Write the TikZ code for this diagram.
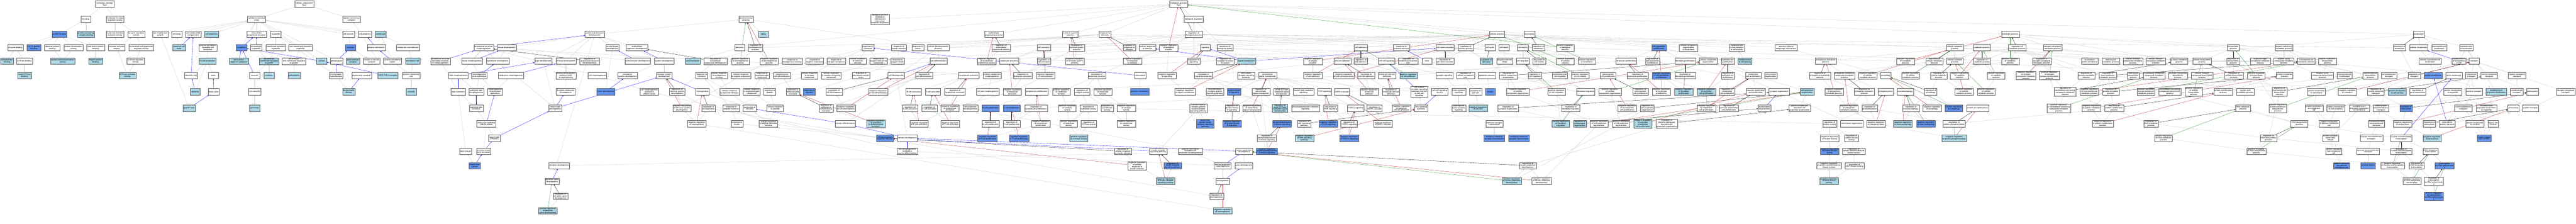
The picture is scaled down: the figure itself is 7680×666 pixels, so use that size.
\documentclass[tikz,border=0pt]{standalone}
\usepackage{fontspec}
\setmainfont{Liberation Sans}
\usetikzlibrary{positioning,calc,backgrounds,arrows.meta}
\definecolor{hitlight}{HTML}{ADD8E6}
\definecolor{hitdark}{HTML}{6495ED}
\definecolor{isagray}{HTML}{C8C8C8}
\definecolor{negred}{HTML}{B22222}
\definecolor{posgreen}{HTML}{228B22}
\tikzset{
    gograph/.style={
        x=1pt, y=-1pt,
        % Style for plain terms
        goterm/.style={draw=black!65, fill=white, rectangle, align=center,
                       minimum width=30pt, minimum height=19pt,
                       inner xsep=2pt, inner ysep=0.8pt, line width=0.6pt,
                       font=\fontsize{6}{6}\selectfont},
        % Style for annotated terms (light)
        golight/.style={goterm, fill=hitlight},
        % Style for annotated terms (dark)
        godark/.style={goterm, fill=hitdark},
        % Styles for the relations
        isa/.style={draw=isagray, line width=0.5pt, -{Latex[length=3.5pt,width=3pt]}},
        partof/.style={isa, draw=blue},
        regulates/.style={isa, draw=black},
        negregulates/.style={isa, draw=negred},
        posregulates/.style={isa, draw=posgreen}
    }
}
\begin{document}
\begin{tikzpicture}[gograph]
\useasboundingbox (0,0) rectangle (7680,666);
% molecular function
\node[goterm] (mf) at (312,12) {molecular\_function\\Tsc2};
\node[goterm] (bind) at (256,57) {binding};
\node[goterm] (mfreg) at (343,57) {molecular function\\regulator activity};
\node[godark] (protbind) at (177,102) {protein binding};
\node[golight] (complexbind) at (256,102) {protein-containing\\complex binding};
\node[goterm] (mfact) at (343,102) {molecular function\\activator activity};
\node[goterm] (enzreg) at (406,102) {enzyme regulator\\activity};
\node[goterm] (enzbind) at (46,142) {enzyme binding};
\node[godark] (bind1433) at (101,142) {14-3-3 protein\\binding};
\node[goterm] (identbind) at (156,142) {identical protein\\binding};
\node[goterm] (dimer) at (219,142) {protein dimerization\\activity};
\node[goterm] (hsbind) at (285,142) {heat shock protein\\binding};
\node[goterm] (enzact) at (348,142) {enzyme activator\\activity};
\node[goterm] (ntpreg) at (421,142) {nucleoside-triphosphatase\\regulator activity};
\node[golight] (phosbind) at (21,182) {phosphatase\\binding};
\node[goterm] (gtpbind) at (73,182) {GTPase binding};
\node[golight] (homodimer) at (187,182) {protein homodimerization\\activity};
\node[golight] (hsp90) at (285,182) {Hsp90 protein\\binding};
\node[goterm] (gtpreg) at (404,182) {GTPase regulator\\activity};
\node[golight] (smallgtpbind) at (73,225) {small GTPase\\binding};
\node[golight] (gtpact) at (380,225) {GTPase activator\\activity};
% cellular component
\node[goterm] (cc) at (907,12) {cellular\_component\\Tsc2};
\node[goterm] (cae) at (765,57) {cellular anatomical\\entity};
\node[goterm] (pcc) at (1048,57) {protein-containing\\complex};
\node[goterm] (polgrowth) at (478,102) {site of polarized\\growth};
\node[goterm] (cellbody) at (527,102) {cell body};
\node[goterm] (somato) at (576,102) {somatodendritic\\compartment};
\node[golight] (cellproj) at (631,102) {cell projection};
\node[goterm] (iastruct) at (765,102) {intracellular\\anatomical structure};
\node[goterm] (organelle) at (822,102) {organelle};
\node[goterm] (celljunc) at (1039,102) {cell junction};
\node[goterm] (cellperiph) at (1088,102) {cell periphery};
\node[golight] (membrane) at (1135,102) {membrane};
\node[golight] (neuronbody) at (534,142) {neuronal cell\\body};
\node[goterm] (pmbcp) at (620,142) {plasma membrane\\bounded cell\\projection};
\node[godark] (cytoplasm) at (720,142) {cytoplasm};
\node[goterm] (iorganelle) at (764,142) {intracellular\\organelle};
\node[goterm] (mbo) at (822,142) {membrane-bounded\\organelle};
\node[goterm] (nmbo) at (896,142) {non-membrane-bounded\\organelle};
\node[godark] (synapse) at (1045,142) {synapse};
\node[goterm] (pm) at (1122,142) {plasma membrane};
\node[goterm] (microdomain) at (1216,142) {membrane microdomain};
\node[golight] (neuronproj) at (618,182) {neuron projection};
\node[golight] (perinuc) at (712,182) {perinuclear\\region of cytoplasm};
\node[golight] (imbo) at (802,182) {intracellular\\membrane-bounded\\organelle};
\node[goterm] (inmbo) at (876,182) {intracellular\\non-membrane-bounded\\organelle};
\node[golight] (cytosol) at (959,182) {cytosol};
\node[goterm] (postsynapse) at (1003,182) {postsynapse};
\node[golight] (glutsyn) at (1052,182) {glutamatergic\\synapse};
\node[goterm] (n2nsyn) at (1108,182) {neuron to neuron\\synapse};
\node[goterm] (pmregion) at (1170,182) {plasma membrane\\region};
\node[golight] (raft) at (1230,182) {membrane raft};
\node[goterm] (dendtree) at (570,225) {dendritic tree};
\node[goterm] (axon) at (636,225) {axon};
\node[goterm] (vacuole) at (759,225) {vacuole};
\node[golight] (nucleus) at (802,225) {nucleus};
\node[golight] (cytoskel) at (877,225) {cytoskeleton};
\node[goterm] (psspec) at (1002,225) {postsynaptic\\specialization};
\node[goterm] (asymsyn) at (1078,225) {asymmetric synapse};
\node[golight] (tsccomplex) at (1156,225) {TSC1-TSC2 complex};
\node[goterm] (pmraft) at (1226,225) {plasma membrane\\raft};
\node[golight] (dendrite) at (582,273) {dendrite};
\node[goterm] (distaxon) at (637,273) {distal axon};
\node[goterm] (lyticvac) at (759,273) {lytic vacuole};
\node[golight] (psd) at (1040,273) {postsynaptic\\density};
\node[golight] (caveola) at (1226,273) {caveola};
\node[golight] (growthcone) at (564,322) {growth cone};
\node[golight] (lysosome) at (759,322) {lysosome};
% biological process: development
\node[goterm] (asdev) at (1773,102) {anatomical structure\\development};
\node[goterm] (asmorph) at (1442,142) {anatomical structure\\morphogenesis};
\node[goterm] (tissuedev) at (1511,142) {tissue development};
\node[goterm] (organdev) at (1826,142) {animal organ\\development};
\node[goterm] (mcorgdev) at (1899,142) {multicellular\\organism development};
\node[goterm] (asform) at (1313,182) {anatomical structure\\formation involved\\in morphogenesis};
\node[goterm] (tissuemorph) at (1407,182) {tissue morphogenesis};
\node[goterm] (epidev) at (1484,182) {epithelium development};
\node[goterm] (tubedev) at (1620,182) {tube development};
\node[goterm] (embryodev) at (1687,182) {embryo development};
\node[goterm] (regasmorph) at (1758,182) {regulation of\\anatomical structure\\morphogenesis};
\node[goterm] (mesdev) at (1901,182) {mesenchyme development};
\node[goterm] (tubemorph) at (1366,225) {tube morphogenesis};
\node[goterm] (morphepi) at (1429,225) {morphogenesis\\of an epithelium};
\node[goterm] (embmorph) at (1523,225) {embryonic morphogenesis};
\node[goterm] (embbirth) at (1687,225) {embryo development\\ending in birth\\or egg hatching};
\node[goterm] (cellmorph) at (1781,225) {cell morphogenesis};
\node[goterm] (circdev) at (1871,225) {circulatory\\system development};
\node[goterm] (tubeform) at (1366,273) {tube formation};
\node[goterm] (epitubemorph) at (1420,273) {epithelial tube\\morphogenesis};
\node[goterm] (morphembepi) at (1476,273) {morphogenesis\\of embryonic\\epithelium};
\node[goterm] (chordatedev) at (1686,273) {chordate embryonic\\development};
\node[godark] (heartdev) at (1806,273) {heart development};
\node[goterm] (cellmorphdiff) at (1936,273) {cell morphogenesis\\involved in\\differentiation};
\node[goterm] (epitubeform) at (1420,322) {epithelial tube\\formation};
\node[goterm] (ntdev) at (1655,322) {neural tube\\development};
\node[goterm] (embepitube) at (1450,368) {embryonic epithelial\\tube formation};
\node[goterm] (ntform) at (1474,411) {neural tube\\formation};
\node[goterm] (tubeclosure) at (1388,450) {tube closure};
\node[goterm] (primaryntform) at (1442,450) {primary neural\\tube formation};
\node[godark] (ntclosure) at (1415,493) {neural tube\\closure};
\node[goterm] (dendritedev) at (1667,493) {dendrite development};
\node[goterm] (spinedev) at (1646,539) {dendritic spine\\development};
\node[goterm] (regspinedev) at (1671,584) {regulation of\\dendritic spine\\development};
\node[golight] (posregspinedev) at (1633,627) {positive regulation\\of dendritic\\spine development};
% developmental process and responses
\node[goterm] (devproc) at (2224,57) {developmental\\process};
\node[golight] (aging) at (2276,102) {aging};
\node[goterm] (behavior) at (2205,142) {behavior};
\node[goterm] (regdevproc) at (2252,142) {regulation of\\developmental\\process};
\node[goterm] (sysdev) at (1980,182) {system development};
\node[golight] (socialbeh) at (2065,182) {social behavior};
\node[goterm] (regmcorgdev) at (2133,182) {regulation of\\multicellular\\organismal development};
\node[goterm] (posregdevproc) at (2207,182) {positive regulation\\of developmental\\process};
\node[goterm] (negregdevproc) at (2293,182) {negative regulation\\of developmental\\process};
\node[goterm] (respendo) at (2362,182) {response to\\endogenous stimulus};
\node[goterm] (resporganic) at (2429,182) {response to\\organic substance};
\node[goterm] (respnitrogen) at (2493,182) {response to\\nitrogen compound};
\node[goterm] (cellrespchem) at (2557,182) {cellular response\\to chemical\\stimulus};
\node[goterm] (nervdev) at (1980,225) {nervous system\\development};
\node[goterm] (resphormone) at (2092,225) {response to\\hormone};
\node[goterm] (cellrespendo) at (2144,225) {cellular response\\to endogenous\\stimulus};
\node[goterm] (cellresporganic) at (2209,225) {cellular response\\to organic substance};
\node[goterm] (resporganon) at (2272,225) {response to\\organonitrogen\\compound};
\node[goterm] (mesdiff) at (2331,225) {mesenchymal\\cell differentiation};
\node[goterm] (cellrespnitrogen) at (2413,225) {cellular response\\to nitrogen\\compound};
\node[goterm] (cellrespoxy) at (2478,225) {cellular response\\to oxygen-containing\\compound};
\node[goterm] (respdecoxy) at (2567,225) {response to\\decreased oxygen\\levels};
\node[goterm] (regnervdev) at (2019,273) {regulation of\\nervous system\\development};
\node[goterm] (neurogen) at (2094,273) {neurogenesis};
\node[goterm] (cellresphormone) at (2175,273) {cellular response\\to hormone stimulus};
\node[goterm] (cellresporganon) at (2241,273) {cellular response\\to organonitrogen\\compound};
\node[goterm] (resppeptide) at (2295,273) {response to\\peptide};
\node[goterm] (emt) at (2364,273) {epithelial to\\mesenchymal\\transition};
\node[godark] (hypoxia) at (2413,273) {response to\\hypoxia};
\node[goterm] (regcelldev) at (2487,273) {regulation of\\cell development};
\node[goterm] (negregnervdev) at (2033,322) {negative regulation\\of nervous system\\development};
\node[goterm] (regneurogen) at (2112,322) {regulation of\\neurogenesis};
\node[goterm] (resppephormone) at (2180,322) {response to\\peptide hormone};
\node[goterm] (genneurons) at (2235,322) {generation of\\neurons};
\node[goterm] (cellresppeptide) at (2311,322) {cellular response\\to peptide};
\node[goterm] (regemt) at (2463,322) {regulation of\\epithelial to\\mesenchymal\\transition};
\node[goterm] (negregcelldev) at (2522,322) {negative regulation\\of cell development};
\node[goterm] (negregneurogen) at (2077,368) {negative regulation\\of neurogenesis};
\node[goterm] (respinsulin) at (2197,368) {response to\\insulin};
\node[goterm] (cellresppephormone) at (2291,368) {cellular response\\to peptide hormone\\stimulus};
\node[goterm] (neurondiff) at (2520,368) {neuron differentiation};
% cell differentiation and immune terms
\node[goterm] (interspecies) at (2624,57) {biological process\\involved in\\interspecies\\interaction\\between organisms};
\node[goterm] (mcorgproc) at (2963,102) {multicellular\\organismal process};
\node[goterm] (immuneproc) at (3191,102) {immune system\\process};
\node[goterm] (respchem) at (2587,142) {response to\\chemical};
\node[goterm] (respabiotic) at (2680,142) {response to\\abiotic stimulus};
\node[goterm] (respstress) at (2736,142) {response to\\stress};
\node[goterm] (celldevproc) at (2797,142) {cellular developmental\\process};
\node[goterm] (regmcorgproc) at (2985,142) {regulation of\\multicellular\\organismal process};
\node[goterm] (cellact) at (3112,142) {cell activation};
\node[goterm] (regimmune) at (3210,142) {regulation of\\immune system\\process};
\node[goterm] (respoxycomp) at (2619,182) {response to\\oxygen-containing\\compound};
\node[goterm] (respoxylev) at (2676,182) {response to\\oxygen levels};
\node[goterm] (celldiff) at (2798,182) {cell differentiation};
\node[goterm] (negregmcorg) at (2942,182) {negative regulation\\of multicellular\\organismal process};
\node[goterm] (leukact) at (3009,182) {leukocyte activation};
\node[goterm] (regcellact) at (3112,182) {regulation of\\cell activation};
\node[goterm] (negregimmune) at (3204,182) {negative regulation\\of immune system\\process};
\node[goterm] (celldev) at (2672,225) {cell development};
\node[goterm] (regcelldiff) at (2755,225) {regulation of\\cell differentiation};
\node[goterm] (lymphact) at (2888,225) {lymphocyte activation};
\node[goterm] (ccmorph) at (2958,225) {cellular component\\morphogenesis};
\node[goterm] (regleukact) at (3049,225) {regulation of\\leukocyte activation};
\node[goterm] (negregcellact) at (3117,225) {negative regulation\\of cell activation};
\node[goterm] (negregcelldiff) at (2618,273) {negative regulation\\of cell differentiation};
\node[goterm] (bact) at (2724,273) {B cell activation};
\node[goterm] (tact) at (2781,273) {T cell activation};
\node[goterm] (reglymphact) at (2847,273) {regulation of\\lymphocyte activation};
\node[goterm] (cellpartmorph) at (2945,273) {cell part morphogenesis};
\node[goterm] (negregleukact) at (3018,273) {negative regulation\\of leukocyte\\activation};
\node[goterm] (lymphprolif) at (3091,273) {lymphocyte proliferation};
\node[goterm] (posregmf) at (3164,273) {positive regulation\\of molecular\\function};
\node[goterm] (regbact) at (2713,322) {regulation of\\B cell activation};
\node[goterm] (regtact) at (2771,322) {regulation of\\T cell activation};
\node[goterm] (negreglymphact) at (2832,322) {negative regulation\\of lymphocyte\\activation};
\node[goterm] (cellprojmorph) at (2893,322) {cell projection\\morphogenesis};
\node[godark] (bprolif) at (2953,322) {B cell proliferation};
\node[godark] (tprolif) at (3016,322) {T cell proliferation};
\node[goterm] (reglymphprolif) at (3089,322) {regulation of\\lymphocyte proliferation};
\node[goterm] (posregcat) at (3182,322) {positive regulation\\of catalytic\\activity};
\node[golight] (negregemt) at (2611,368) {negative regulation\\of epithelial\\to mesenchymal\\transition};
\node[goterm] (negregbact) at (2740,368) {negative regulation\\of B cell activation};
\node[goterm] (negregtact) at (2833,368) {negative regulation\\of T cell activation};
\node[goterm] (regbprolif) at (2953,368) {regulation of\\B cell proliferation};
\node[goterm] (regtprolif) at (3016,368) {regulation of\\T cell proliferation};
\node[goterm] (negreglymphprolif) at (3103,368) {negative regulation\\of lymphocyte\\proliferation};
\node[goterm] (posreghydro) at (3186,368) {positive regulation\\of hydrolase\\activity};
\node[godark] (cellrespinsulin) at (2638,411) {cellular response\\to insulin stimulus};
\node[goterm] (neurondev) at (2705,411) {neuron development};
\node[godark] (negregbprolif) at (2944,411) {negative regulation\\of B cell proliferation};
\node[godark] (negregtprolif) at (3038,411) {negative regulation\\of T cell proliferation};
\node[golight] (posreggtpase) at (3216,411) {positive regulation\\of GTPase activity};
\node[goterm] (cellmorphneuron) at (2705,450) {cell morphogenesis\\involved in\\neuron differentiation};
% signaling
\node[goterm] (bp) at (3514,12) {biological\_process\\Tsc2};
\node[goterm] (bioreg) at (3559,57) {biological regulation};
\node[goterm] (respstim) at (3294,102) {response to\\stimulus};
\node[goterm] (regbp) at (3559,102) {regulation of\\biological process};
\node[goterm] (regrespstim) at (3367,142) {regulation of\\response to\\stimulus};
\node[goterm] (cellrespstim) at (3421,142) {cellular response\\to stimulus};
\node[goterm] (negregbp) at (3484,142) {negative regulation\\of biological\\process};
\node[goterm] (signaling) at (3594,142) {signaling};
\node[goterm] (regbq) at (3652,142) {regulation of\\biological quality};
\node[goterm] (negregrespstim) at (3376,182) {negative regulation\\of response\\to stimulus};
\node[goterm] (regsignaling) at (3559,182) {regulation of\\signaling};
\node[goterm] (regsynstruct) at (3653,182) {regulation of\\synapse structure\\or activity};
\node[golight] (sigtrans) at (3716,182) {signal transduction};
\node[goterm] (regmf) at (3270,225) {regulation of\\molecular function};
\node[goterm] (chemotaxis) at (3399,225) {chemotaxis};
\node[goterm] (negregsignaling) at (3479,225) {negative regulation\\of signaling};
\node[goterm] (regsigtrans) at (3588,225) {regulation of\\signal transduction};
\node[goterm] (csrsig) at (3715,225) {cell surface\\receptor signaling\\pathway};
\node[goterm] (intrasig) at (3779,225) {intracellular\\signal transduction};
\node[goterm] (regcat) at (3226,273) {regulation of\\catalytic activity};
\node[goterm] (negregmf) at (3288,273) {negative regulation\\of molecular\\function};
\node[godark] (poschemotaxis) at (3398,273) {positive chemotaxis};
\node[goterm] (negregsigtrans) at (3533,273) {negative regulation\\of signal transduction};
\node[goterm] (enzlinked) at (3622,273) {enzyme-linked\\receptor protein\\signaling pathway};
\node[godark] (pkbsig) at (3679,273) {protein kinase\\B signaling};
\node[goterm] (regintrasig) at (3759,273) {regulation of\\intracellular\\signal transduction};
\node[goterm] (smallgtpsig) at (3821,273) {small GTPase\\mediated signal\\transduction};
\node[goterm] (reghydro) at (3245,322) {regulation of\\hydrolase activity};
\node[goterm] (regtransferase) at (3301,322) {regulation of\\transferase\\activity};
\node[goterm] (negregcat) at (3358,322) {negative regulation\\of catalytic\\activity};
\node[goterm] (rtksig) at (3573,322) {transmembrane\\receptor protein\\tyrosine kinase\\signaling pathway};
\node[goterm] (regpkb) at (3673,322) {regulation of\\protein kinase\\B signaling};
\node[goterm] (negregintrasig) at (3732,322) {negative regulation\\of intracellular\\signal transduction};
\node[golight] (regsmallgtp) at (3816,322) {regulation of\\small GTPase\\mediated signal\\transduction};
\node[goterm] (reggtpase) at (3246,368) {regulation of\\GTPase activity};
\node[goterm] (negregtransferase) at (3358,368) {negative regulation\\of transferase\\activity};
\node[godark] (igfsig) at (3593,368) {insulin-like\\growth factor\\receptor signaling\\pathway};
\node[godark] (negregpkb) at (3673,368) {negative regulation\\of protein kinase\\B signaling};
\node[godark] (pi3ksig) at (3822,368) {phosphatidylinositol\\3-kinase signaling};
\node[goterm] (regpi3k) at (3777,411) {regulation of\\phosphatidylinositol\\3-kinase signaling};
\node[goterm] (regcellrespins) at (3348,450) {regulation of\\cellular response\\to insulin stimulus};
\node[goterm] (insrecsig) at (3453,450) {insulin receptor\\signaling pathway};
\node[goterm] (pmbcpmorph) at (3549,450) {plasma membrane\\bounded cell\\projection morphogenesis};
\node[goterm] (neuronprojdev) at (3709,450) {neuron projection\\development};
\node[godark] (negregpi3k) at (3777,450) {negative regulation\\of phosphatidylinositol\\3-kinase signaling};
\node[goterm] (negregcellrespins) at (3390,493) {negative regulation\\of cellular\\response to\\insulin stimulus};
\node[godark] (reginsrec) at (3496,493) {regulation of\\insulin receptor\\signaling pathway};
\node[goterm] (neuronprojmorph) at (3645,493) {neuron projection\\morphogenesis};
\node[goterm] (axondev) at (3708,493) {axon development};
\node[golight] (negreginsrec) at (3475,539) {negative regulation\\of insulin receptor\\signaling pathway};
\node[goterm] (axonogenesis) at (3645,539) {axonogenesis};
\node[goterm] (regaxonogenesis) at (3627,584) {regulation of\\axonogenesis};
\node[golight] (negregaxonogenesis) at (3645,627) {negative regulation\\of axonogenesis};
% cellular process, adhesion, pathways
\node[goterm] (cellproc) at (4463,102) {cellular process};
\node[goterm] (celladh) at (4057,142) {cell adhesion};
\node[goterm] (respext) at (4178,142) {response to\\external stimulus};
\node[goterm] (cellcomm) at (4308,142) {cell communication};
\node[goterm] (regcellproc) at (4370,142) {regulation of\\cellular process};
\node[goterm] (cellcycle) at (4442,142) {cell cycle};
\node[goterm] (celldeath) at (4484,142) {cell death};
\node[goterm] (negregcellproc) at (3914,182) {negative regulation\\of cellular\\process};
\node[goterm] (ccadh) at (4002,182) {cell-cell adhesion};
\node[goterm] (regcelladh) at (4057,182) {regulation of\\cell adhesion};
\node[goterm] (ccsig) at (4134,182) {cell-cell signaling};
\node[goterm] (regassize) at (4198,182) {regulation of\\anatomical structure\\size};
\node[goterm] (taxis) at (4254,182) {taxis};
\node[goterm] (regcellcomm) at (4308,182) {regulation of\\cell communication};
\node[golight] (regcellcycle) at (4431,182) {regulation of\\cell cycle};
\node[goterm] (pcd) at (4486,182) {programmed cell\\death};
\node[goterm] (negregcelladh) at (3914,225) {negative regulation\\of cell adhesion};
\node[goterm] (negregcellcomm) at (4006,225) {negative regulation\\of cell communication};
\node[goterm] (regccadh) at (4073,225) {regulation of\\cell-cell adhesion};
\node[goterm] (leukccadh) at (4135,225) {leukocyte cell-cell\\adhesion};
\node[golight] (posregcelladh) at (4199,225) {positive regulation\\of cell adhesion};
\node[goterm] (synsig) at (4306,225) {synaptic signaling};
\node[goterm] (regccsize) at (4369,225) {regulation of\\cellular component\\size};
\node[goterm] (apoptosis) at (4433,225) {apoptotic process};
\node[goterm] (regcco) at (4497,225) {regulation of\\cellular component\\organization};
\node[goterm] (inositolsig) at (3886,273) {inositol lipid-mediated\\signaling};
\node[goterm] (torsig) at (3949,273) {TOR signaling};
\node[goterm] (mapk) at (4001,273) {MAPK cascade};
\node[goterm] (negregccadh) at (4082,273) {negative regulation\\of cell-cell\\adhesion};
\node[goterm] (regleukccadh) at (4147,273) {regulation of\\leukocyte cell-cell\\adhesion};
\node[goterm] (csrccsig) at (4231,273) {cell surface\\receptor signaling\\pathway involved\\in cell-cell\\signaling};
\node[goterm] (wntcc) at (4292,273) {cell-cell signaling\\by wnt};
\node[goterm] (transsyn) at (4349,273) {trans-synaptic\\signaling};
\node[goterm] (regcellsize) at (4399,273) {regulation of\\cell size};
\node[godark] (anoikis) at (4443,273) {anoikis};
\node[goterm] (pisig) at (3892,322) {phosphatidylinositol-mediated\\signaling};
\node[goterm] (regtor) at (3967,322) {regulation of\\TOR signaling};
\node[goterm] (torc1) at (4042,322) {TORC1 signaling};
\node[goterm] (regmapk) at (4098,322) {regulation of\\MAPK cascade};
\node[goterm] (negregleukccadh) at (4178,322) {negative regulation\\of leukocyte\\cell-cell adhesion};
\node[goterm] (wnt) at (4237,322) {Wnt signaling\\pathway};
\node[goterm] (anterograde) at (4349,322) {anterograde\\trans-synaptic\\signaling};
\node[golight] (negregcellsize) at (4407,322) {negative regulation\\of cell size};
\node[goterm] (regsynorg) at (4496,322) {regulation of\\synapse organization};
\node[goterm] (regwnt) at (3888,368) {regulation of\\Wnt signaling\\pathway};
\node[godark] (negregtor) at (3960,368) {negative regulation\\of TOR signaling};
\node[goterm] (regtorc1) at (4022,368) {regulation of\\TORC1 signaling};
\node[goterm] (negregmapk) at (4123,368) {negative regulation\\of MAPK cascade};
\node[goterm] (chemsyn) at (4455,368) {chemical synaptic\\transmission};
\node[golight] (negregwnt) at (3889,411) {negative regulation\\of Wnt signaling\\pathway};
\node[godark] (negregtorc1) at (4022,411) {negative regulation\\of TORC1 signaling};
\node[godark] (inhibsyn) at (4455,411) {inhibitory chemical\\synaptic transmission};
% locomotion and proliferation
\node[goterm] (locomotion) at (4560,102) {locomotion};
\node[goterm] (cellmotility) at (4540,142) {cell motility};
\node[goterm] (regloc) at (4587,142) {regulation of\\locomotion};
\node[goterm] (posregbp) at (4666,142) {positive regulation\\of biological\\process};
\node[godark] (cellpopprolif) at (4946,142) {cell population\\proliferation};
\node[goterm] (ccob) at (5034,142) {cellular component\\organization\\or biogenesis};
\node[goterm] (cellmig) at (4540,182) {cell migration};
\node[goterm] (regcellmotility) at (4589,182) {regulation of\\cell motility};
\node[goterm] (posregcellproc) at (4667,182) {positive regulation\\of cellular\\process};
\node[goterm] (posregloc) at (4731,182) {positive regulation\\of locomotion};
\node[goterm] (leukprolif) at (4848,182) {leukocyte proliferation};
\node[goterm] (regcellpop) at (4927,182) {regulation of\\cell population\\proliferation};
\node[goterm] (fibroprolif) at (5024,182) {fibroblast proliferation};
\node[goterm] (cco) at (5093,182) {cellular component\\organization};
\node[goterm] (regcellmig) at (4576,225) {regulation of\\cell migration};
\node[goterm] (ameboid) at (4651,225) {ameboidal-type\\cell migration};
\node[goterm] (posregcellmotility) at (4711,225) {positive regulation\\of cell motility};
\node[goterm] (mononucprolif) at (4794,225) {mononuclear\\cell proliferation};
\node[goterm] (regleukprolif) at (4882,225) {regulation of\\leukocyte proliferation};
\node[godark] (negregcellpop) at (4953,225) {negative regulation\\of cell population\\proliferation};
\node[goterm] (regfibroprolif) at (5024,225) {regulation of\\fibroblast proliferation};
\node[goterm] (negregcco) at (4525,273) {negative regulation\\of cellular\\component organization};
\node[goterm] (posregcellmig) at (4640,273) {positive regulation\\of cell migration};
\node[goterm] (fibromig) at (4727,273) {fibroblast migration};
\node[goterm] (posregcco) at (4800,273) {positive regulation\\of cellular\\component organization};
\node[goterm] (regmononuc) at (4891,273) {regulation of\\mononuclear\\cell proliferation};
\node[goterm] (negregleukprolif) at (4953,273) {negative regulation\\of leukocyte\\proliferation};
\node[golight] (negregfibroprolif) at (5020,273) {negative regulation\\of fibroblast\\proliferation};
\node[golight] (negregepiprolif) at (5087,273) {negative regulation\\of epithelial\\cell proliferation};
\node[goterm] (regfibromig) at (4683,322) {regulation of\\fibroblast migration};
\node[goterm] (negregmononuc) at (4851,322) {negative regulation\\of mononuclear\\cell proliferation};
\node[goterm] (regcellprojorg) at (4911,322) {regulation of\\cell projection\\organization};
\node[goterm] (negregendoprolif) at (5087,322) {negative regulation\\of endothelial\\cell proliferation};
\node[golight] (posregfibromig) at (4653,368) {positive regulation\\of fibroblast\\migration};
\node[golight] (regpostsynorg) at (4710,368) {regulation of\\postsynapse\\organization};
\node[goterm] (negregcellprojorg) at (4767,368) {negative regulation\\of cell projection\\organization};
\node[goterm] (posregcellprojorg) at (4833,368) {positive regulation\\of cell projection\\organization};
\node[golight] (negregvascprolif) at (4898,368) {negative regulation\\of vascular\\endothelial\\cell proliferation};
\node[goterm] (regpmbcporg) at (4969,368) {regulation of\\plasma membrane\\bounded cell\\projection organization};
\node[godark] (excitsyn) at (4528,411) {excitatory chemical\\synaptic transmission};
\node[goterm] (regneuronprojdev) at (4555,493) {regulation of\\neuron projection\\development};
\node[golight] (posregneuronprojdev) at (4507,539) {positive regulation\\of neuron projection\\development};
\node[goterm] (negregneuronprojdev) at (4596,539) {negative regulation\\of neuron projection\\development};
% phosphorus metabolism and autophagy
\node[goterm] (polarity) at (5178,142) {establishment\\or maintenance\\of cell polarity};
\node[goterm] (autophagmech) at (5325,142) {process utilizing\\autophagic mechanism};
\node[goterm] (epiprolif) at (5151,182) {epithelial cell\\proliferation};
\node[golight] (estpolarity) at (5202,182) {establishment\\of cell polarity};
\node[goterm] (phosphorus) at (5443,182) {phosphorus metabolic\\process};
\node[goterm] (negregmetab) at (5681,182) {negative regulation\\of metabolic\\process};
\node[goterm] (regcellmetab) at (5767,182) {regulation of\\cellular metabolic\\process};
\node[goterm] (regepiprolif) at (5151,225) {regulation of\\epithelial cell\\proliferation};
\node[goterm] (endoprolif) at (5227,225) {endothelial\\cell proliferation};
\node[goterm] (celljuncorg) at (5279,225) {cell junction\\organization};
\node[goterm] (regphosphorus) at (5426,225) {regulation of\\phosphorus metabolic\\process};
\node[goterm] (phosphate) at (5499,225) {phosphate-containing\\compound metabolic\\process};
\node[goterm] (negregcellmetab) at (5568,225) {negative regulation\\of cellular\\metabolic process};
\node[goterm] (autophagy) at (5622,225) {autophagy};
\node[goterm] (posregcellmetab) at (5696,225) {positive regulation\\of cellular\\metabolic process};
\node[goterm] (regcellcatab) at (5780,225) {regulation of\\cellular catabolic\\process};
\node[goterm] (regendoprolif) at (5149,273) {regulation of\\endothelial\\cell proliferation};
\node[goterm] (vascprolif) at (5234,273) {vascular endothelial\\cell proliferation};
\node[goterm] (synorg) at (5304,273) {synapse organization};
\node[golight] (cellprojorg) at (5388,273) {cell projection\\organization};
\node[goterm] (negregphosphorus) at (5468,273) {negative regulation\\of phosphorus\\metabolic process};
\node[goterm] (regphosphate) at (5558,273) {regulation of\\phosphate metabolic\\process};
\node[goterm] (phosphorylation) at (5622,273) {phosphorylation};
\node[goterm] (macroautophagy) at (5680,273) {macroautophagy};
\node[goterm] (regautophagy) at (5756,273) {regulation of\\autophagy};
\node[goterm] (regvascprolif) at (5154,322) {regulation of\\vascular endothelial\\cell proliferation};
\node[goterm] (postsynorg) at (5260,322) {postsynapse\\organization};
\node[goterm] (pmbcporg) at (5365,322) {plasma membrane\\bounded cell\\projection organization};
\node[goterm] (negregphosphate) at (5512,322) {negative regulation\\of phosphate\\metabolic process};
\node[goterm] (regphosphorylation) at (5574,322) {regulation of\\phosphorylation};
\node[goterm] (regmacroautophagy) at (5697,322) {regulation of\\macroautophagy};
\node[goterm] (negregautophagy) at (5760,322) {negative regulation\\of autophagy};
\node[goterm] (regkinase) at (5455,368) {regulation of\\kinase activity};
\node[goterm] (memorg) at (5521,368) {membrane organization};
\node[goterm] (negregphosphorylation) at (5593,368) {negative regulation\\of phosphorylation};
\node[golight] (negregmacroautophagy) at (5673,368) {negative regulation\\of macroautophagy};
\node[godark] (posregmacroautophagy) at (5742,368) {positive regulation\\of macroautophagy};
\node[goterm] (negregkinase) at (5455,411) {negative regulation\\of kinase activity};
\node[goterm] (regpk) at (5520,411) {regulation of\\protein kinase\\activity};
\node[godark] (negregpk) at (5455,450) {negative regulation\\of protein kinase\\activity};
\node[goterm] (regstk) at (5527,450) {regulation of\\protein serine/threonine\\kinase activity};
\node[goterm] (negregstk) at (5453,493) {negative regulation\\of protein serine/threonine\\kinase activity};
\node[goterm] (regmapkin) at (5529,493) {regulation of\\MAP kinase activity};
\node[golight] (negregmapkin) at (5453,539) {negative regulation\\of MAP kinase\\activity};
% metabolic process
\node[goterm] (metab) at (5993,102) {metabolic process};
\node[goterm] (cellmetab) at (5828,142) {cellular metabolic\\process};
\node[goterm] (catab) at (5909,142) {catabolic process};
\node[goterm] (regmetab) at (6014,142) {regulation of\\metabolic process};
\node[goterm] (nitrogenmetab) at (6119,142) {nitrogen compound\\metabolic process};
\node[goterm] (cellcatab) at (5828,182) {cellular catabolic\\process};
\node[goterm] (regcatab) at (5909,182) {regulation of\\catabolic process};
\node[goterm] (posregmetab) at (5993,182) {positive regulation\\of metabolic\\process};
\node[goterm] (regnitrogen) at (6087,182) {regulation of\\nitrogen compound\\metabolic process};
\node[goterm] (locmembrane) at (6230,182) {localization\\within membrane};
\node[goterm] (heterocycle) at (6293,182) {heterocycle\\metabolic process};
\node[goterm] (aromaticmetab) at (6359,182) {cellular aromatic\\compound metabolic\\process};
\node[goterm] (cellnitrogenmetab) at (6427,182) {cellular nitrogen\\compound metabolic\\process};
\node[goterm] (negregcatab) at (5842,225) {negative regulation\\of catabolic\\process};
\node[goterm] (posregcatab) at (5951,225) {positive regulation\\of catabolic\\process};
\node[goterm] (negregnitrogen) at (6040,225) {negative regulation\\of nitrogen\\compound metabolic\\process};
\node[goterm] (posregnitrogen) at (6110,225) {positive regulation\\of nitrogen\\compound metabolic\\process};
\node[goterm] (regprimary) at (6220,225) {regulation of\\primary metabolic\\process};
\node[goterm] (regmacromol) at (6284,225) {regulation of\\macromolecule\\metabolic process};
\node[goterm] (heterobiosyn) at (6360,225) {heterocycle\\biosynthetic\\process};
\node[goterm] (nucleobase) at (6422,225) {nucleobase-containing\\compound metabolic\\process};
\node[goterm] (negregcellcatab) at (5855,273) {negative regulation\\of cellular\\catabolic process};
\node[goterm] (posregcellcatab) at (5921,273) {positive regulation\\of cellular\\catabolic process};
\node[goterm] (regnucleobase) at (6157,273) {regulation of\\nucleobase-containing\\compound metabolic\\process};
\node[goterm] (negregmacromol) at (6229,273) {negative regulation\\of macromolecule\\metabolic process};
\node[goterm] (regprotmetab) at (6293,273) {regulation of\\protein metabolic\\process};
\node[goterm] (posregmacromol) at (6398,273) {positive regulation\\of macromolecule\\metabolic process};
\node[godark] (posregautophagy) at (5825,322) {positive regulation\\of autophagy};
\node[goterm] (protphos) at (5896,322) {protein phosphorylation};
\node[goterm] (posregnucleobase) at (6138,322) {positive regulation\\of nucleobase-containing\\compound metabolic\\process};
\node[goterm] (negregprotmetab) at (6235,322) {negative regulation\\of protein metabolic\\process};
\node[goterm] (regprotmod) at (6303,322) {regulation of\\protein modification\\process};
\node[goterm] (regprotphos) at (5826,368) {regulation of\\protein phosphorylation};
\node[goterm] (negregprotmod) at (6269,368) {negative regulation\\of protein modification\\process};
\node[goterm] (regrnametab) at (6413,368) {regulation of\\RNA metabolic\\process};
\node[golight] (negregprotphos) at (5826,411) {negative regulation\\of protein phosphorylation};
% biosynthesis
\node[goterm] (biosyn) at (6658,142) {biosynthetic\\process};
\node[goterm] (orgsubmetab) at (6809,142) {organic substance\\metabolic process};
\node[goterm] (primarymetab) at (6497,182) {primary metabolic\\process};
\node[goterm] (cellbiosyn) at (6565,182) {cellular biosynthetic\\process};
\node[goterm] (regbiosyn) at (6658,182) {regulation of\\biosynthetic\\process};
\node[goterm] (organonmetab) at (6739,182) {organonitrogen\\compound metabolic\\process};
\node[goterm] (orgcyclicmetab) at (6809,182) {organic cyclic\\compound metabolic\\process};
\node[goterm] (macromolmetab) at (6876,182) {macromolecule\\metabolic process};
\node[goterm] (orgsubbiosyn) at (6939,182) {organic substance\\biosynthetic\\process};
\node[goterm] (aromaticbiosyn) at (6493,225) {aromatic compound\\biosynthetic\\process};
\node[goterm] (cellnitrogenbiosyn) at (6565,225) {cellular nitrogen\\compound biosynthetic\\process};
\node[goterm] (regcellbiosyn) at (6660,225) {regulation of\\cellular biosynthetic\\process};
\node[goterm] (posregbiosyn) at (6727,225) {positive regulation\\of biosynthetic\\process};
\node[goterm] (protmetab) at (6811,225) {protein metabolic\\process};
\node[goterm] (orgcyclicbiosyn) at (6924,225) {organic cyclic\\compound biosynthetic\\process};
\node[goterm] (macromolmod) at (6990,225) {macromolecule\\modification};
\node[goterm] (nucleobasebiosyn) at (6469,273) {nucleobase-containing\\compound biosynthetic\\process};
\node[goterm] (posregcellbiosyn) at (6540,273) {positive regulation\\of cellular\\biosynthetic\\process};
\node[goterm] (protmod) at (6628,273) {protein modification\\process};
\node[goterm] (nucacidmetab) at (6694,273) {nucleic acid\\metabolic process};
\node[goterm] (regmacrobiosyn) at (6796,273) {regulation of\\macromolecule\\biosynthetic\\process};
\node[goterm] (protlocmem) at (6906,273) {protein localization\\to membrane};
\node[goterm] (negregtransport) at (6998,273) {negative regulation\\of transport};
\node[goterm] (rnametab) at (6687,322) {RNA metabolic\\process};
\node[goterm] (posregmacrobiosyn) at (6791,322) {positive regulation\\of macromolecule\\biosynthetic\\process};
\node[goterm] (protlocraft) at (6899,322) {protein localization\\to membrane\\raft};
\node[goterm] (protloccellper) at (6964,322) {protein localization\\to cell periphery};
\node[goterm] (estprotlocmem) at (7034,322) {establishment\\of protein localization\\to membrane};
\node[goterm] (rnabiosyn) at (6855,368) {RNA biosynthetic\\process};
\node[goterm] (protlocpmraft) at (6944,368) {protein localization\\to plasma membrane\\raft};
\node[goterm] (posregrnametab) at (6450,411) {positive regulation\\of RNA metabolic\\process};
\node[goterm] (regrnabiosyn) at (6763,411) {regulation of\\RNA biosynthetic\\process};
\node[goterm] (protlipid) at (6948,411) {protein transport\\within lipid\\bilayer};
\node[goterm] (hexosetm) at (7070,411) {hexose transmembrane\\transport};
\node[goterm] (posregrnabiosyn) at (6727,450) {positive regulation\\of RNA biosynthetic\\process};
\node[goterm] (protinraft) at (6958,450) {protein transport\\into membrane\\raft};
\node[goterm] (glucosetm) at (7060,450) {glucose transmembrane\\transport};
\node[godark] (protinpmraft) at (6981,493) {protein transport\\into plasma\\membrane raft};
\node[godark] (glucoseimport) at (7060,493) {glucose import};
% localization and transcription
\node[goterm] (loc) at (7211,102) {localization};
\node[goterm] (reglocalization) at (7154,142) {regulation of\\localization};
\node[goterm] (cellloc) at (7211,142) {cellular localization};
\node[goterm] (macroloc) at (7272,142) {macromolecule\\localization};
\node[goterm] (estloc) at (7353,142) {establishment\\of localization};
\node[goterm] (cellmacroloc) at (7245,182) {cellular macromolecule\\localization};
\node[goterm] (estloccell) at (7331,182) {establishment\\of localization\\in cell};
\node[goterm] (transport) at (7376,182) {transport};
\node[goterm] (macrobiosyn) at (7067,225) {macromolecule\\biosynthetic\\process};
\node[goterm] (tmtransport) at (7122,225) {transmembrane\\transport};
\node[goterm] (regtransport) at (7198,225) {regulation of\\transport};
\node[godark] (protloc) at (7254,225) {protein localization};
\node[goterm] (geneexpr) at (7316,225) {gene expression};
\node[goterm] (intratransport) at (7368,225) {intracellular\\transport};
\node[goterm] (vesicletransport) at (7421,225) {vesicle-mediated\\transport};
\node[goterm] (orgsubtransport) at (7504,225) {organic substance\\transport};
\node[goterm] (regvesicle) at (7083,273) {regulation of\\vesicle-mediated\\transport};
\node[golight] (protloccs) at (7147,273) {protein localization\\to cell surface};
\node[goterm] (reggeneexpr) at (7208,273) {regulation of\\gene expression};
\node[goterm] (protlocorg) at (7313,273) {protein localization\\to organelle};
\node[goterm] (nucleartransport) at (7376,273) {nuclear transport};
\node[golight] (estprotloc) at (7442,273) {establishment\\of protein localization};
\node[goterm] (carbotransport) at (7503,273) {carbohydrate\\transport};
\node[goterm] (endocytosis) at (7550,273) {endocytosis};
\node[goterm] (nitrogentransport) at (7649,273) {nitrogen compound\\transport};
\node[goterm] (carbotm) at (7098,322) {carbohydrate\\transmembrane\\transport};
\node[godark] (regendocytosis) at (7173,322) {regulation of\\endocytosis};
\node[goterm] (nucleocyto) at (7344,322) {nucleocytoplasmic\\transport};
\node[goterm] (estprotlocorg) at (7413,322) {establishment\\of protein localization\\to organelle};
\node[goterm] (pinocytosis) at (7493,322) {pinocytosis};
\node[goterm] (prottransport) at (7544,322) {protein transport};
\node[goterm] (monosacchtm) at (7085,368) {monosaccharide\\transmembrane\\transport};
\node[goterm] (negregendocytosis) at (7163,368) {negative regulation\\of endocytosis};
\node[goterm] (regpinocytosis) at (7243,368) {regulation of\\pinocytosis};
\node[goterm] (intraprottransport) at (7296,368) {intracellular\\protein transport};
\node[goterm] (protlocnuc) at (7379,368) {protein localization\\to nucleus};
\node[goterm] (importnuc) at (7433,368) {import into\\nucleus};
\node[goterm] (nucacidtranscr) at (7159,411) {nucleic acid-templated\\transcription};
\node[golight] (negregpinocytosis) at (7251,411) {negative regulation\\of pinocytosis};
\node[godark] (protimportnuc) at (7406,411) {protein import\\into nucleus};
\node[goterm] (regnucacidtranscr) at (7159,450) {regulation of\\nucleic acid-templated\\transcription};
\node[goterm] (dnatranscr) at (7246,450) {DNA-templated\\transcription};
\node[goterm] (posregnucacidtranscr) at (7133,493) {positive regulation\\of nucleic acid-templated\\transcription};
\node[goterm] (regdnatranscr) at (7205,493) {regulation of\\DNA-templated\\transcription};
\node[godark] (transcrpol2) at (7288,493) {transcription\\by RNA polymerase\\II};
\node[goterm] (posregdnatranscr) at (7191,539) {positive regulation\\of DNA-templated\\transcription};
\node[goterm] (regtranscrpol2) at (7256,539) {regulation of\\transcription\\by RNA polymerase\\II};
\node[godark] (posregtranscrpol2) at (7256,584) {positive regulation\\of transcription\\by RNA polymerase\\II};
% relations, drawn under the terms
\begin{scope}[on background layer]
\fill[white] (0,0) rectangle (7680,666);
\foreach \c/\p in {bind/mf, mfreg/mf, protbind/bind, complexbind/bind, mfact/mfreg, enzreg/mfreg,
    enzbind/protbind, bind1433/protbind, identbind/protbind, dimer/protbind, hsbind/protbind,
    enzact/mfact, enzact/enzreg, ntpreg/enzreg, phosbind/enzbind, gtpbind/enzbind,
    homodimer/identbind, homodimer/dimer, hsp90/hsbind, gtpreg/ntpreg, smallgtpbind/gtpbind,
    gtpact/enzact, gtpact/gtpreg,
    cae/cc, pcc/cc, polgrowth/cae, cellbody/cae, somato/cae, cellproj/cae, iastruct/cae,
    organelle/cae, celljunc/cae, cellperiph/cae, membrane/cae, neuronbody/cellbody, pmbcp/cellproj,
    neuronproj/pmbcp, dendtree/neuronproj, dendrite/neuronproj, axon/neuronproj, growthcone/polgrowth,
    cytoplasm/cae, iorganelle/organelle, mbo/organelle, nmbo/organelle, perinuc/cae,
    imbo/iorganelle, imbo/mbo, inmbo/iorganelle, inmbo/nmbo, cytosol/cae, vacuole/imbo,
    nucleus/imbo, cytoskel/inmbo, lyticvac/vacuole, lysosome/lyticvac, synapse/celljunc,
    pm/membrane, microdomain/membrane, postsynapse/cae, glutsyn/synapse, n2nsyn/synapse,
    pmregion/membrane, raft/microdomain, psspec/organelle, asymsyn/n2nsyn, tsccomplex/pcc,
    pmraft/pmregion, pmraft/raft, psd/psspec, caveola/pmraft,
    asdev/devproc, tissuedev/asdev, organdev/asdev, mcorgdev/asdev, tissuemorph/asmorph,
    epidev/tissuedev, tubedev/asdev, embryodev/asdev, mesdev/tissuedev, tubemorph/asmorph,
    morphepi/tissuemorph, embmorph/asmorph, embbirth/embryodev, cellmorph/asmorph, circdev/sysdev,
    tubeform/asform, epitubemorph/tubemorph, epitubemorph/morphepi, morphembepi/morphepi,
    morphembepi/embmorph, chordatedev/embbirth, heartdev/organdev, epitubeform/tubeform,
    ntdev/tubedev, ntdev/epidev, embepitube/epitubeform, ntform/embepitube, tubeclosure/tubeform,
    primaryntform/embepitube, ntclosure/tubeclosure, posregspinedev/regspinedev,
    cellmorphdiff/cellmorph, spinedev/asdev, dendritedev/neuronprojdev,
    aging/devproc, behavior/bp, regdevproc/regbp, sysdev/asdev, socialbeh/behavior,
    regmcorgdev/regdevproc, posregdevproc/regdevproc, negregdevproc/regdevproc, respendo/respstim,
    resporganic/respchem, respnitrogen/respchem, cellrespchem/respchem, cellrespchem/cellrespstim,
    nervdev/sysdev, resphormone/respendo, cellrespendo/respendo, cellresporganic/resporganic,
    resporganon/respnitrogen, resporganon/resporganic, mesdiff/celldiff,
    cellrespnitrogen/respnitrogen, cellrespoxy/respoxycomp, respdecoxy/respoxylev,
    regnervdev/regmcorgdev, cellresphormone/resphormone, cellresphormone/cellrespendo,
    cellresporganon/resporganon, cellresporganon/cellrespnitrogen, resppeptide/resporganon,
    emt/mesdiff, hypoxia/respdecoxy, regcelldev/regcelldiff, negregnervdev/regnervdev,
    negregnervdev/negregdevproc, regneurogen/regnervdev, resppephormone/resphormone,
    resppephormone/resppeptide, genneurons/neurogen, cellresppeptide/resppeptide,
    cellresppeptide/cellresporganon, regemt/regcelldiff, negregcelldev/regcelldev,
    negregcelldev/negregcelldiff, negregneurogen/regneurogen, negregneurogen/negregnervdev,
    respinsulin/resppephormone, cellresppephormone/resppephormone,
    cellresppephormone/cellresppeptide, cellresppephormone/cellresphormone, neurondiff/celldiff,
    interspecies/bp, mcorgproc/bp, immuneproc/bp, respchem/respstim, respabiotic/respstim,
    respstress/respstim, celldevproc/devproc, celldevproc/cellproc, regmcorgproc/regbp,
    cellact/cellproc, regimmune/regbp, respoxycomp/respchem, respoxylev/respabiotic,
    celldiff/celldevproc, negregmcorg/regmcorgproc, negregmcorg/negregbp, leukact/cellact,
    leukact/immuneproc, regcellact/regcellproc, negregimmune/regimmune, celldev/celldevproc,
    regcelldiff/regcellproc, lymphact/leukact, ccmorph/asmorph, regleukact/regcellact,
    regleukact/regimmune, negregcellact/regcellact, negregcelldiff/regcelldiff, bact/lymphact,
    tact/lymphact, reglymphact/regleukact, cellpartmorph/ccmorph, negregleukact/regleukact,
    negregleukact/negregcellact, lymphprolif/leukprolif, posregmf/regmf, regbact/reglymphact,
    regtact/reglymphact, negreglymphact/reglymphact, negreglymphact/negregleukact,
    cellprojmorph/cellpartmorph, bprolif/lymphprolif, tprolif/lymphprolif,
    reglymphprolif/regleukprolif, posregcat/regcat, posregcat/posregmf, negregemt/regemt,
    negregbact/regbact, negregbact/negreglymphact, negregtact/regtact, negregtact/negreglymphact,
    regbprolif/reglymphprolif, regtprolif/reglymphprolif, negreglymphprolif/reglymphprolif,
    posreghydro/reghydro, posreghydro/posregcat, cellrespinsulin/respinsulin,
    cellrespinsulin/cellresppephormone, neurondev/celldev, negregbprolif/regbprolif,
    negregbprolif/negreglymphprolif, negregtprolif/regtprolif, negregtprolif/negreglymphprolif,
    posreggtpase/reggtpase, posreggtpase/posreghydro, cellmorphneuron/cellmorphdiff}
    \draw[isa] (\c) -- (\p);
\foreach \c/\p in {bioreg/bp, respstim/bp, regbp/bioreg, regrespstim/regbp,
    cellrespstim/respstim, cellrespstim/cellproc, negregbp/regbp, signaling/cellproc, regbq/bioreg,
    negregrespstim/regrespstim, negregrespstim/negregbp, regsignaling/regbp, regsynstruct/regbq,
    regmf/regbp, negregsignaling/regsignaling, negregsignaling/negregbp, regsigtrans/regsignaling,
    regsigtrans/regcellproc, csrsig/sigtrans, intrasig/sigtrans, regcat/regmf, negregmf/regmf,
    poschemotaxis/chemotaxis, negregsigtrans/regsigtrans, negregsigtrans/negregsignaling,
    enzlinked/csrsig, pkbsig/intrasig, regintrasig/regsigtrans, smallgtpsig/intrasig,
    reghydro/regcat, regtransferase/regcat, negregcat/regcat, negregcat/negregmf, rtksig/enzlinked,
    regpkb/regintrasig, negregintrasig/regintrasig, negregintrasig/negregsigtrans,
    regsmallgtp/regintrasig, reggtpase/reghydro, negregtransferase/regtransferase,
    negregtransferase/negregcat, igfsig/rtksig, negregpkb/regpkb, negregpkb/negregintrasig,
    pi3ksig/intrasig, regpi3k/regintrasig, insrecsig/rtksig, pmbcpmorph/cellprojmorph,
    negregpi3k/regpi3k, negregpi3k/negregintrasig, negregcellrespins/regcellrespins,
    neuronprojmorph/pmbcpmorph, neuronprojmorph/cellmorphneuron, axondev/neuronprojdev,
    negreginsrec/reginsrec, negreginsrec/negregcellrespins, axonogenesis/neuronprojmorph,
    regaxonogenesis/regneurogen, negregaxonogenesis/regaxonogenesis,
    negregaxonogenesis/negregneurogen,
    cellproc/bp, celladh/cellproc, respext/respstim, cellcomm/cellproc, regcellproc/regbp,
    cellcycle/cellproc, celldeath/cellproc, negregcellproc/regcellproc, negregcellproc/negregbp,
    ccadh/celladh, regcelladh/regcellproc, regassize/regbq, taxis/locomotion,
    regcellcomm/regcellproc, regcellcycle/regcellproc, pcd/celldeath, negregcelladh/regcelladh,
    negregcelladh/negregcellproc, negregcellcomm/regcellcomm, negregcellcomm/negregcellproc,
    regccadh/regcelladh, leukccadh/ccadh, posregcelladh/regcelladh, posregcelladh/posregcellproc,
    synsig/ccsig, regccsize/regassize, apoptosis/pcd, regcco/regcellproc, inositolsig/intrasig,
    torsig/intrasig, mapk/intrasig, negregccadh/regccadh, negregccadh/negregcelladh,
    regleukccadh/regccadh, csrccsig/csrsig, wnt/csrccsig, transsyn/synsig,
    regcellsize/regccsize, anoikis/apoptosis, pisig/inositolsig, regtor/regintrasig, torc1/torsig,
    regmapk/regintrasig, negregleukccadh/regleukccadh, negregleukccadh/negregccadh,
    anterograde/transsyn, negregcellsize/regcellsize, regsynorg/regcco, regwnt/regsigtrans,
    negregtor/regtor, regtorc1/regtor, negregmapk/regmapk, chemsyn/anterograde,
    negregwnt/regwnt, negregtorc1/regtorc1, negregtorc1/negregtor, inhibsyn/chemsyn,
    excitsyn/chemsyn,
    locomotion/bp, cellmotility/locomotion, regloc/regbp, posregbp/regbp, cellpopprolif/cellproc,
    ccob/cellproc, cellmig/cellmotility, regcellmotility/regloc, posregcellproc/posregbp,
    posregcellproc/regcellproc, posregloc/regloc, posregloc/posregbp, leukprolif/cellpopprolif,
    regcellpop/regcellproc, fibroprolif/cellpopprolif, cco/ccob, regcellmig/regcellmotility,
    ameboid/cellmig, posregcellmotility/regcellmotility, posregcellmotility/posregloc,
    mononucprolif/leukprolif, regleukprolif/regcellpop, negregcellpop/regcellpop,
    regfibroprolif/regcellpop, negregcco/regcco, posregcellmig/regcellmig,
    posregcellmig/posregcellmotility, fibromig/ameboid, posregcco/regcco,
    regmononuc/regleukprolif, negregleukprolif/regleukprolif, negregleukprolif/negregcellpop,
    negregfibroprolif/regfibroprolif, negregfibroprolif/negregcellpop,
    negregepiprolif/regepiprolif, negregepiprolif/negregcellpop, regfibromig/regcellmig,
    negregmononuc/regmononuc, negregmononuc/negregleukprolif, regcellprojorg/regcco,
    negregendoprolif/regendoprolif, negregendoprolif/negregepiprolif, posregfibromig/regfibromig,
    posregfibromig/posregcellmig, regpostsynorg/regsynorg, negregcellprojorg/regcellprojorg,
    negregcellprojorg/negregcco, posregcellprojorg/regcellprojorg, posregcellprojorg/posregcco,
    negregvascprolif/regvascprolif, negregvascprolif/negregendoprolif, regpmbcporg/regcellprojorg,
    regneuronprojdev/regpmbcporg, posregneuronprojdev/regneuronprojdev,
    negregneuronprojdev/regneuronprojdev, negregneuronprojdev/negregcellprojorg,
    posregneuronprojdev/posregcellprojorg}
    \draw[isa] (\c) -- (\p);
\foreach \c/\p in {polarity/cellproc, autophagmech/cellproc, epiprolif/cellpopprolif,
    estpolarity/polarity, phosphorus/cellmetab, negregmetab/regmetab, negregmetab/negregbp,
    regcellmetab/regmetab, regepiprolif/regcellpop, endoprolif/epiprolif, celljuncorg/cco,
    regphosphorus/regcellmetab, phosphate/phosphorus, negregcellmetab/regcellmetab,
    negregcellmetab/negregmetab, autophagy/autophagmech, posregcellmetab/regcellmetab,
    posregcellmetab/posregmetab, regcellcatab/regcatab, regendoprolif/regepiprolif,
    vascprolif/endoprolif, cellprojorg/cco, negregphosphorus/regphosphorus,
    negregphosphorus/negregcellmetab, regphosphate/regphosphorus, phosphorylation/phosphate,
    macroautophagy/autophagy, regautophagy/regcellcatab, regvascprolif/regendoprolif,
    pmbcporg/cellprojorg, negregphosphate/regphosphate, negregphosphate/negregphosphorus,
    regphosphorylation/regphosphate, regmacroautophagy/regautophagy, negregautophagy/regautophagy,
    regkinase/regphosphorylation, regkinase/regtransferase, memorg/cco,
    negregphosphorylation/regphosphorylation, negregphosphorylation/negregphosphate,
    negregmacroautophagy/regmacroautophagy, posregmacroautophagy/regmacroautophagy,
    negregkinase/regkinase, regpk/regkinase, negregpk/negregkinase, negregpk/regpk, regstk/regpk,
    negregstk/negregpk, negregstk/regstk, regmapkin/regstk, negregmapkin/negregstk,
    negregmapkin/regmapkin,
    metab/bp, cellmetab/metab, cellmetab/cellproc, catab/metab, regmetab/regbp, nitrogenmetab/metab,
    cellcatab/catab, cellcatab/cellmetab, regcatab/regmetab, posregmetab/regmetab,
    posregmetab/posregbp, regnitrogen/regmetab, locmembrane/loc, heterocycle/cellmetab,
    aromaticmetab/cellmetab, cellnitrogenmetab/nitrogenmetab, negregcatab/regcatab,
    negregcatab/negregmetab, posregcatab/regcatab, posregcatab/posregmetab,
    negregnitrogen/regnitrogen, posregnitrogen/regnitrogen, regprimary/regmetab,
    regmacromol/regmetab, heterobiosyn/heterocycle, nucleobase/heterocycle,
    nucleobase/aromaticmetab, negregcellcatab/negregcatab, negregcellcatab/regcellcatab,
    posregcellcatab/posregcatab, posregcellcatab/regcellcatab, regnucleobase/regnitrogen,
    regnucleobase/regprimary, negregmacromol/regmacromol, regprotmetab/regmacromol,
    posregmacromol/regmacromol, posregautophagy/regautophagy, protphos/phosphorylation,
    posregnucleobase/regnucleobase, posregnucleobase/posregnitrogen, negregprotmetab/regprotmetab,
    negregprotmetab/negregmacromol, regprotmod/regprotmetab, regprotphos/regphosphorylation,
    regprotphos/regprotmod, negregprotmod/regprotmod, negregprotmod/negregprotmetab,
    regrnametab/regnucleobase, negregprotphos/regprotphos, negregprotphos/negregphosphorylation,
    biosyn/metab, orgsubmetab/metab, primarymetab/metab, cellbiosyn/biosyn, cellbiosyn/cellmetab,
    regbiosyn/regmetab, organonmetab/orgsubmetab, orgcyclicmetab/orgsubmetab,
    macromolmetab/orgsubmetab, macromolmetab/primarymetab, orgsubbiosyn/biosyn,
    orgsubbiosyn/orgsubmetab, aromaticbiosyn/cellbiosyn, aromaticbiosyn/aromaticmetab,
    cellnitrogenbiosyn/cellbiosyn, cellnitrogenbiosyn/cellnitrogenmetab, regcellbiosyn/regbiosyn,
    regcellbiosyn/regcellmetab, posregbiosyn/regbiosyn, protmetab/macromolmetab,
    protmetab/organonmetab, orgcyclicbiosyn/orgsubbiosyn, orgcyclicbiosyn/orgcyclicmetab,
    macromolmod/macromolmetab, nucleobasebiosyn/nucleobase, nucleobasebiosyn/heterobiosyn,
    posregcellbiosyn/regcellbiosyn, posregcellbiosyn/posregbiosyn, protmod/protmetab,
    protmod/macromolmod, nucacidmetab/nucleobase, regmacrobiosyn/regbiosyn,
    regmacrobiosyn/regmacromol, protlocmem/protloc, negregtransport/regtransport,
    rnametab/nucacidmetab, posregmacrobiosyn/regmacrobiosyn, posregmacrobiosyn/posregbiosyn,
    protlocraft/protlocmem, protloccellper/protloc, estprotlocmem/estprotloc,
    rnabiosyn/rnametab, rnabiosyn/nucleobasebiosyn, protlocpmraft/protlocraft,
    protlocpmraft/protloccellper, posregrnametab/regrnametab, regrnabiosyn/regrnametab,
    regrnabiosyn/regmacrobiosyn, protlipid/estprotlocmem, hexosetm/monosacchtm,
    posregrnabiosyn/regrnabiosyn, posregrnabiosyn/posregrnametab, protinraft/protlipid,
    protinraft/protlocraft, glucosetm/hexosetm, protinpmraft/protinraft,
    protinpmraft/protlocpmraft, glucoseimport/glucosetm,
    loc/bp, reglocalization/regbp, cellloc/loc, macroloc/loc, estloc/loc, cellmacroloc/cellloc,
    cellmacroloc/macroloc, estloccell/estloc, transport/estloc, macrobiosyn/biosyn,
    macrobiosyn/macromolmetab, tmtransport/transport, regtransport/reglocalization,
    protloc/cellmacroloc, geneexpr/macromolmetab, intratransport/transport,
    intratransport/estloccell, vesicletransport/transport, orgsubtransport/transport,
    regvesicle/regtransport, protloccs/protloccellper, reggeneexpr/regmacromol,
    protlocorg/protloc, nucleartransport/intratransport, estprotloc/protloc, estprotloc/estloc,
    carbotransport/orgsubtransport, endocytosis/vesicletransport, nitrogentransport/transport,
    carbotm/carbotransport, carbotm/tmtransport, regendocytosis/regvesicle,
    nucleocyto/nucleartransport, estprotlocorg/estprotloc, estprotlocorg/protlocorg,
    pinocytosis/endocytosis, prottransport/estprotloc, prottransport/nitrogentransport,
    monosacchtm/carbotm, negregendocytosis/regendocytosis, negregendocytosis/negregtransport,
    regpinocytosis/regendocytosis, intraprottransport/intratransport,
    intraprottransport/prottransport, protlocnuc/protlocorg, importnuc/nucleocyto,
    negregpinocytosis/regpinocytosis, negregpinocytosis/negregendocytosis,
    protimportnuc/protlocnuc, protimportnuc/importnuc, protimportnuc/estprotlocorg,
    regnucacidtranscr/regrnabiosyn, dnatranscr/nucacidtranscr, nucacidtranscr/rnabiosyn,
    posregnucacidtranscr/regnucacidtranscr, posregnucacidtranscr/posregrnabiosyn,
    regdnatranscr/regnucacidtranscr, transcrpol2/dnatranscr, posregdnatranscr/regdnatranscr,
    posregdnatranscr/posregnucacidtranscr, regtranscrpol2/regdnatranscr,
    posregtranscrpol2/regtranscrpol2, posregtranscrpol2/posregdnatranscr}
    \draw[isa] (\c) -- (\p);
% part of
\foreach \c/\p in {neuronbody/somato, dendtree/somato, dendrite/dendtree, distaxon/axon,
    growthcone/distaxon, cytoplasm/iastruct, iorganelle/iastruct, perinuc/cytoplasm,
    cytosol/cytoplasm, vacuole/cytoplasm, pm/cellperiph, postsynapse/synapse, pmregion/pm,
    psspec/postsynapse, tsccomplex/cytosol, psd/asymsyn,
    asmorph/asdev, asform/asmorph, tissuemorph/tissuedev, mesdev/organdev, tubemorph/tubedev,
    morphepi/epidev, embmorph/embryodev, heartdev/circdev, tubeform/tubemorph,
    epitubeform/epitubemorph, embepitube/morphembepi, ntdev/chordatedev, ntform/ntdev,
    primaryntform/ntform, ntclosure/primaryntform, spinedev/dendritedev, ntdev/nervdev,
    sysdev/mcorgdev, neurogen/nervdev, neurondiff/genneurons, celldev/celldiff,
    neurondev/neurondiff, cellmorphneuron/neurondev, chemotaxis/respchem, sigtrans/signaling,
    sigtrans/cellrespstim, neuronprojmorph/neuronprojdev, axonogenesis/axondev,
    neuronprojdev/neurondev, insrecsig/cellrespinsulin, taxis/respext, sigtrans/cellcomm,
    csrccsig/ccsig, wnt/wntcc, postsynorg/synorg, estloccell/cellloc, intraprottransport/protloc,
    nucacidtranscr/geneexpr}
    \draw[partof] (\c) -- (\p);
% regulates
\foreach \c/\p in {regspinedev/spinedev, regasmorph/asmorph, regdevproc/devproc,
    regmcorgdev/mcorgdev, regnervdev/nervdev, regneurogen/neurogen, regemt/emt,
    regcelldev/celldev, regmcorgproc/mcorgproc, regcellact/cellact, regimmune/immuneproc,
    regcelldiff/celldiff, reglymphact/lymphact, regleukact/leukact, regbact/bact, regtact/tact,
    reglymphprolif/lymphprolif, regbprolif/bprolif, regtprolif/tprolif, regbp/bp,
    regrespstim/respstim, regsignaling/signaling, regsigtrans/sigtrans, regintrasig/intrasig,
    regpkb/pkbsig, regsmallgtp/smallgtpsig, regpi3k/pi3ksig, reginsrec/insrecsig,
    regaxonogenesis/axonogenesis, regcellrespins/cellrespinsulin, regcellproc/cellproc,
    regcelladh/celladh, regcellcomm/cellcomm, regcellcycle/cellcycle, regccadh/ccadh,
    regleukccadh/leukccadh, regtor/torsig, regtorc1/torc1, regmapk/mapk, regwnt/wnt,
    regloc/locomotion, regcellmotility/cellmotility, regcellpop/cellpopprolif,
    regcellmig/cellmig, regleukprolif/leukprolif, regfibroprolif/fibroprolif,
    regmononuc/mononucprolif, regfibromig/fibromig, regcco/cco, regcellprojorg/cellprojorg,
    regepiprolif/epiprolif, regpostsynorg/postsynorg, regpmbcporg/pmbcporg,
    regneuronprojdev/neuronprojdev, regsynorg/synorg, regcellmetab/cellmetab,
    regphosphorus/phosphorus, regphosphate/phosphate, regphosphorylation/phosphorylation,
    regmacroautophagy/macroautophagy, regautophagy/autophagy, regcellcatab/cellcatab,
    regendoprolif/endoprolif, regvascprolif/vascprolif, regmetab/metab, regcatab/catab,
    regnitrogen/nitrogenmetab, regprimary/primarymetab, regmacromol/macromolmetab,
    regnucleobase/nucleobase, regprotmetab/protmetab, regprotmod/protmod, regprotphos/protphos,
    regrnametab/rnametab, regbiosyn/biosyn, regcellbiosyn/cellbiosyn,
    regmacrobiosyn/macrobiosyn, regrnabiosyn/rnabiosyn, reglocalization/loc,
    regtransport/transport, regvesicle/vesicletransport, reggeneexpr/geneexpr,
    regendocytosis/endocytosis, regpinocytosis/pinocytosis, regnucacidtranscr/nucacidtranscr,
    regdnatranscr/dnatranscr, regtranscrpol2/transcrpol2}
    \draw[regulates] (\c) -- (\p);
% negatively regulates
\foreach \c/\p in {negregdevproc/devproc, negregnervdev/nervdev, negregneurogen/neurogen,
    negregemt/emt, negregcelldev/celldev, negregmcorg/mcorgproc, negregimmune/immuneproc,
    negregcellact/cellact, negregcelldiff/celldiff, negregleukact/leukact,
    negreglymphact/lymphact, negregbact/bact, negregtact/tact, negreglymphprolif/lymphprolif,
    negregbprolif/bprolif, negregtprolif/tprolif, negregbp/bp, negregrespstim/respstim,
    negregsignaling/signaling, negregsigtrans/sigtrans, negregintrasig/intrasig,
    negregpkb/pkbsig, negregpi3k/pi3ksig, negreginsrec/insrecsig,
    negregaxonogenesis/axonogenesis, negregcellrespins/cellrespinsulin,
    negregcellproc/cellproc, negregcelladh/celladh, negregcellcomm/cellcomm, negregccadh/ccadh,
    negregleukccadh/leukccadh, negregtor/torsig, negregtorc1/torc1, negregmapk/mapk,
    negregwnt/wnt, negregcellpop/cellpopprolif, negregcco/cco, negregleukprolif/leukprolif,
    negregfibroprolif/fibroprolif, negregepiprolif/epiprolif, negregmononuc/mononucprolif,
    negregendoprolif/endoprolif, negregcellprojorg/cellprojorg, negregvascprolif/vascprolif,
    negregneuronprojdev/neuronprojdev, negregmetab/metab, negregcellmetab/cellmetab,
    negregphosphorus/phosphorus, negregphosphate/phosphate,
    negregphosphorylation/phosphorylation, negregmacroautophagy/macroautophagy,
    negregautophagy/autophagy, negregcatab/catab, negregnitrogen/nitrogenmetab,
    negregcellcatab/cellcatab, negregmacromol/macromolmetab, negregprotmetab/protmetab,
    negregprotmod/protmod, negregprotphos/protphos, negregtransport/transport,
    negregendocytosis/endocytosis, negregpinocytosis/pinocytosis}
    \draw[negregulates] (\c) -- (\p);
% positively regulates
\foreach \c/\p in {posregspinedev/spinedev, posregdevproc/devproc, posregcelladh/celladh,
    posregbp/bp, posregcellproc/cellproc, posregloc/locomotion, posregcellmotility/cellmotility,
    posregcellmig/cellmig, posregcco/cco, posregfibromig/fibromig,
    posregcellprojorg/cellprojorg, posregneuronprojdev/neuronprojdev,
    posregcellmetab/cellmetab, posregmacroautophagy/macroautophagy, posregautophagy/autophagy,
    posregmetab/metab, posregcatab/catab, posregnitrogen/nitrogenmetab,
    posregcellcatab/cellcatab, posregmacromol/macromolmetab, posregnucleobase/nucleobase,
    posregbiosyn/biosyn, posregcellbiosyn/cellbiosyn, posregmacrobiosyn/macrobiosyn,
    posregrnametab/rnametab, posregrnabiosyn/rnabiosyn, posregnucacidtranscr/nucacidtranscr,
    posregdnatranscr/dnatranscr, posregtranscrpol2/transcrpol2}
    \draw[posregulates] (\c) -- (\p);
\end{scope}
\end{tikzpicture}
\end{document}
